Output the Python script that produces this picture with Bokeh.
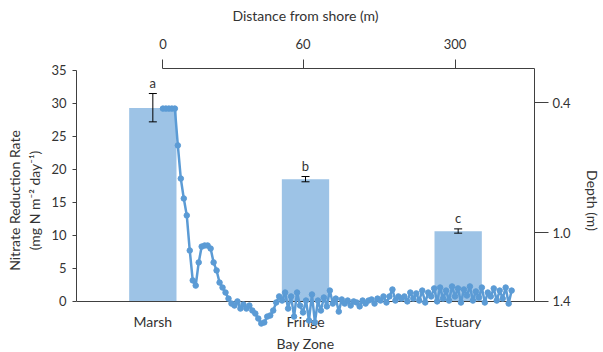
from bokeh.plotting import figure
from bokeh.models import (Range1d, LinearAxis, FixedTicker, ColumnDataSource,
                          Whisker, TeeHead, Title)
from bokeh.core.properties import value
from bokeh.embed import file_html
from bokeh.resources import INLINE

# ---- data ----
ZONES = ["Marsh", "Fringe", "Estuary"]
NITRATE_RATE = [29.3, 18.5, 10.6]
RATE_ERR_LOW = [27.2, 18.1, 10.3]
RATE_ERR_HIGH = [31.5, 18.9, 10.95]
SIG_LETTERS = ["a", "b", "c"]
RATE_TICKS = [0, 5, 10, 15, 20, 25, 30, 35]

# depth profile along the transect (m), one value per sample
DEPTH_M = [0.428, 0.428, 0.428, 0.428, 0.428, 0.598, 0.751, 0.843, 0.921, 1.083,
           1.221, 1.245, 1.138, 1.065, 1.060, 1.060, 1.074, 1.138, 1.175, 1.231,
           1.254, 1.277, 1.305, 1.328, 1.337, 1.318, 1.351, 1.332, 1.351, 1.337,
           1.360, 1.374, 1.397, 1.420, 1.415, 1.388, 1.383, 1.360, 1.323, 1.295,
           1.314, 1.277, 1.351, 1.295, 1.388, 1.277, 1.337, 1.369, 1.314, 1.406,
           1.286, 1.415, 1.314, 1.360, 1.300, 1.341, 1.268, 1.328, 1.305, 1.365,
           1.309, 1.328, 1.314, 1.337, 1.318, 1.323, 1.341, 1.314, 1.328, 1.314,
           1.309, 1.328, 1.305, 1.314, 1.295, 1.323, 1.295, 1.263, 1.314, 1.295,
           1.305, 1.295, 1.318, 1.277, 1.305, 1.281, 1.314, 1.268, 1.323, 1.277,
           1.295, 1.258, 1.318, 1.254, 1.305, 1.268, 1.314, 1.249, 1.295, 1.258,
           1.323, 1.263, 1.291, 1.249, 1.314, 1.272, 1.300, 1.254, 1.323, 1.277,
           1.295, 1.258, 1.314, 1.268, 1.305, 1.254, 1.328, 1.268]
SAMPLE_IDX = list(range(len(DEPTH_M)))

DIST_TICK_IDX = [0, 47, 98]
DIST_TICK_LABELS = ["0", "60", "300"]
DEPTH_TICK_POS = [0.4, 1.0, 1.318]
DEPTH_TICK_LABELS = ["0.4", "1.0", "1.4"]

ZONE_POS = [i + 0.5 for i in range(len(ZONES))]

FONT = "Lato"
TXT = "#333333"
AXC = "#404040"

p = figure(width=603, height=352, x_range=Range1d(0, len(ZONES)),
           y_range=Range1d(-4.78, 35.30), output_backend="svg",
           toolbar_location=None, x_axis_location=None, y_axis_location=None,
           min_border_left=76, min_border_right=66, min_border_top=68,
           min_border_bottom=20)
p.outline_line_color = None
p.xgrid.visible = False
p.ygrid.visible = False
p.extra_x_ranges = {"transect": Range1d(-29, 124.67)}
p.extra_y_ranges = {"depth": Range1d(1.4615, 0.243)}


def style(ax, label_size="13px", title_size="14px"):
    ax.axis_line_color = AXC
    ax.major_tick_line_color = AXC
    ax.minor_tick_line_color = None
    ax.major_tick_in = 0
    ax.major_label_text_font = FONT
    ax.major_label_text_font_size = label_size
    ax.major_label_text_color = TXT
    ax.axis_label_text_font = FONT
    ax.axis_label_text_font_size = title_size
    ax.axis_label_text_font_style = "normal"
    ax.axis_label_text_color = TXT


# left axis
ax_left = LinearAxis(ticker=FixedTicker(ticks=RATE_TICKS), bounds=(0, 35),
                     axis_label="Nitrate Reduction Rate\n(mg N m\u207b\u00b2 day\u207b\u00b9)")
style(ax_left)
ax_left.major_tick_out = 4
ax_left.major_label_standoff = 6
ax_left.axis_label_standoff = 5
p.add_layout(ax_left, "left")

# right axis (depth)
ax_right = LinearAxis(y_range_name="depth", ticker=FixedTicker(ticks=DEPTH_TICK_POS),
                      major_label_overrides=dict(zip(DEPTH_TICK_POS, DEPTH_TICK_LABELS)),
                      bounds=(0.243, 1.318), axis_label="Depth (m)")
style(ax_right)
ax_right.major_tick_out = 14
ax_right.major_label_standoff = 4
ax_right.axis_label_standoff = 10
p.add_layout(ax_right, "right")

# top axis (distance)
ax_top = LinearAxis(x_range_name="transect", ticker=FixedTicker(ticks=DIST_TICK_IDX),
                    major_label_overrides=dict(zip(DIST_TICK_IDX, DIST_TICK_LABELS)),
                    bounds=(0, 124.67), axis_label="Distance from shore (m)")
style(ax_top)
ax_top.major_tick_out = 9
ax_top.major_label_standoff = 11
ax_top.axis_label_standoff = 12
p.add_layout(ax_top, "above")

# bottom zone axis drawn at y=0
ax_bot = LinearAxis(fixed_location=0, ticker=FixedTicker(ticks=ZONE_POS),
                    major_label_overrides=dict(zip(ZONE_POS, ZONES)))
style(ax_bot, label_size="14px")
ax_bot.major_tick_out = 0
ax_bot.major_tick_line_color = None
ax_bot.major_label_standoff = 12
p.add_layout(ax_bot, "below")

p.add_layout(Title(text="Bay Zone", align="center", text_font=FONT,
                   text_font_size="14px", text_font_style="normal",
                   text_color=TXT, standoff=0, offset=0), "below")

src = ColumnDataSource(dict(pos=ZONE_POS, rate=NITRATE_RATE, lo=RATE_ERR_LOW,
                            hi=RATE_ERR_HIGH, letter=SIG_LETTERS))
p.vbar(x="pos", top="rate", bottom=0, width=0.31, source=src,
       fill_color="#9DC3E6", line_color=None)
wh = Whisker(base="pos", lower="lo", upper="hi", source=src,
             line_color="black", line_width=1, level="annotation",
             upper_head=TeeHead(size=8, line_color="black", line_width=1),
             lower_head=TeeHead(size=8, line_color="black", line_width=1))
p.add_layout(wh)
p.text(x="pos", y="hi", text="letter", source=src, text_align="center",
       text_baseline="bottom", y_offset=-3, text_font=value(FONT),
       text_font_size="13px", text_color=TXT)

dsrc = ColumnDataSource(dict(idx=SAMPLE_IDX, depth=DEPTH_M))
ln = p.line(x="idx", y="depth", source=dsrc, x_range_name="transect",
            y_range_name="depth", line_color="#5B9BD5", line_width=2.5)
sc = p.scatter(x="idx", y="depth", source=dsrc, x_range_name="transect",
               y_range_name="depth", size=5.5, fill_color="#5B9BD5",
               line_color="#5B9BD5")
ln.level = "overlay"
sc.level = "overlay"

open("out.html", "w").write(file_html(p, INLINE))
